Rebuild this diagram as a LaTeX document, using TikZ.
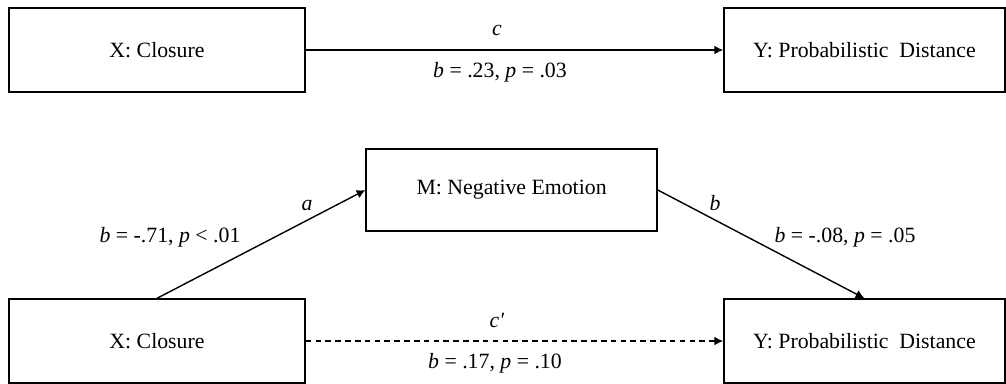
\documentclass[tikz,border=0pt]{standalone}
\usepackage{fontspec}
\setmainfont{Liberation Serif}
\usetikzlibrary{arrows.meta,positioning}
\tikzset{
    var/.style={rectangle, draw, line width=1pt, minimum height=2.1cm, inner sep=2pt,
                font=\fontsize{15.5}{18}\selectfont},
    path/.style={draw, line width=1pt, -{Latex[length=2.2mm,width=2.2mm]}},
    coef/.style={inner sep=1pt, font=\fontsize{15.5}{18}\selectfont}
}

\begin{document}
\begin{tikzpicture}
    \useasboundingbox (0,0) rectangle (25.15,-9.575);

    % Total effect
    \node[var, minimum width=7.4cm] (X1) at (3.925,-1.25) {X: Closure};
    \node[var, minimum width=7.025cm] (Y1) at (21.61,-1.25) {Y: Probabilistic\ \ Distance};
    \draw[path] (X1) -- (Y1);
    \node[coef] (lc) at (12.425,-0.75) {\textit{c}};
    \node[coef] (lbc) at (12.5,-1.8) {\textit{b} = .23, \textit{p} = .03};

    % Mediation
    \node[var, minimum width=7.275cm, minimum height=2.05cm] (M) at (12.79,-4.75) {M: Negative Emotion};
    \node[var, minimum width=7.4cm] (X2) at (3.925,-8.525) {X: Closure};
    \node[var, minimum width=7.025cm] (Y2) at (21.61,-8.525) {Y: Probabilistic\ \ Distance};

    % edges
    \draw[path] (X2.north) -- (M.west);
    \draw[path] (M.east) -- (Y2.north);
    \draw[path, dash pattern=on 4pt off 3pt] (X2) -- (Y2);

    \node[coef] (la) at (7.675,-5.125) {\textit{a}};
    \node[coef] (lba) at (4.25,-5.925) {\textit{b} = -.71, \textit{p} < .01};
    \node[coef] (lb) at (17.875,-5.075) {\textit{b}};
    \node[coef] (lbb) at (21.125,-5.925) {\textit{b} = -.08, \textit{p} = .05};
    \node[coef] (lcp) at (12.425,-8.0) {\textit{c′}};
    \node[coef] (lbcp) at (12.375,-9.075) {\textit{b} = .17, \textit{p} = .10};
\end{tikzpicture}
\end{document}
